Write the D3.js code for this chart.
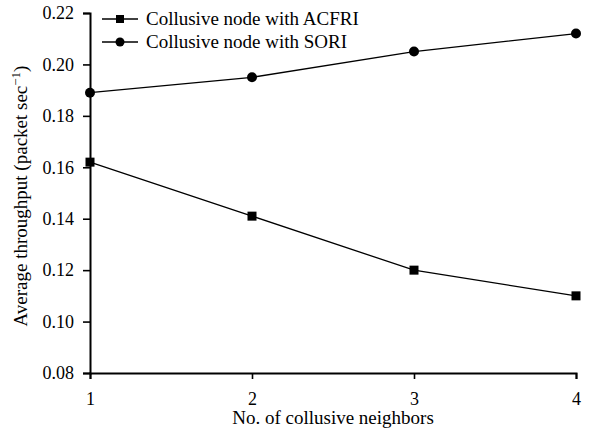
<!DOCTYPE html>
<html>
<head>
<meta charset="utf-8">
<script src="https://cdn.jsdelivr.net/npm/d3@7"></script>
<style>
  body { margin: 0; background: #fff; }
</style>
</head>
<body>
<script>
// data
var neighbors = [1, 2, 3, 4];
var acfri = [0.162, 0.141, 0.120, 0.110];
var sori = [0.189, 0.195, 0.205, 0.212];
var yTicks = [0.08, 0.10, 0.12, 0.14, 0.16, 0.18, 0.20, 0.22];
var seriesNames = ['Collusive node with ACFRI', 'Collusive node with SORI'];

var chart_w = 591, chart_h = 436;
var pad_l = 90, pad_r = 576, pad_t = 13, pad_b = 373;
var serif = '"Liberation Serif"';

var svg = d3.select('body').append('svg').attr('width', chart_w).attr('height', chart_h);

var x = d3.scaleLinear().domain([1, 4]).range([pad_l, pad_r]);
var y = d3.scaleLinear().domain([0.08, 0.22]).range([pad_b, pad_t]);

// axes
var xAxis = svg.append('g').attr('transform', 'translate(0,' + pad_b + ')')
  .call(d3.axisBottom(x).tickValues(neighbors).tickFormat(d3.format('d')).tickSizeOuter(0).tickSize(6).tickPadding(13));
var yAxis = svg.append('g').attr('transform', 'translate(' + pad_l + ',0)')
  .call(d3.axisLeft(y).tickValues(yTicks).tickFormat(d3.format('.2f')).tickSizeOuter(0).tickSize(7).tickPadding(9));

[xAxis, yAxis].forEach(function(a) {
  a.select('.domain').attr('stroke', '#000').attr('stroke-width', 2);
  a.selectAll('.tick line').attr('stroke', '#000').attr('stroke-width', 1.6);
  a.selectAll('.tick text').style('font-size', '18px').style('font-family', serif).style('fill', '#000');
});

// axis titles
svg.append('text').attr('x', 333).attr('y', 424)
  .attr('text-anchor', 'middle').style('font-family', serif).style('font-size', '19px').text('No. of collusive neighbors');

var yt = svg.append('text').attr('transform', 'translate(27,196) rotate(-90)')
  .attr('text-anchor', 'middle').style('font-family', serif).style('font-size', '19px');
yt.append('tspan').text('Average throughput (packet sec');
yt.append('tspan').attr('baseline-shift', 'super').style('font-size', '13px').text('\u22121');
yt.append('tspan').text(')');

// lines
var line = d3.line().x(function(d, i) { return x(neighbors[i]); }).y(function(d) { return y(d); });

svg.append('path').datum(acfri).attr('d', line).attr('fill', 'none').attr('stroke', '#000').attr('stroke-width', 1.3);
svg.append('path').datum(sori).attr('d', line).attr('fill', 'none').attr('stroke', '#000').attr('stroke-width', 1.3);

svg.selectAll('.sq').data(acfri).enter().append('rect')
  .attr('x', function(d, i) { return x(neighbors[i]) - 4.5; })
  .attr('y', function(d) { return y(d) - 4.5; })
  .attr('width', 9).attr('height', 9).attr('fill', '#000');

svg.selectAll('.ci').data(sori).enter().append('circle')
  .attr('cx', function(d, i) { return x(neighbors[i]); })
  .attr('cy', function(d) { return y(d); })
  .attr('r', 5).attr('fill', '#000');

// legend
var lg = svg.append('g').attr('transform', 'translate(102,19)');
seriesNames.forEach(function(name, i) {
  var g = lg.append('g').attr('transform', 'translate(0,' + (i * 23) + ')');
  g.append('line').attr('x1', 0).attr('x2', 36).attr('stroke', '#000').attr('stroke-width', 1.6);
  if (i === 0) g.append('rect').attr('x', 14).attr('y', -4).attr('width', 8).attr('height', 8);
  else g.append('circle').attr('cx', 18).attr('r', 4.5);
  g.append('text').attr('x', 44).attr('y', 6).style('font-family', serif).style('font-size', '19px').text(name);
});
</script>
</body>
</html>
